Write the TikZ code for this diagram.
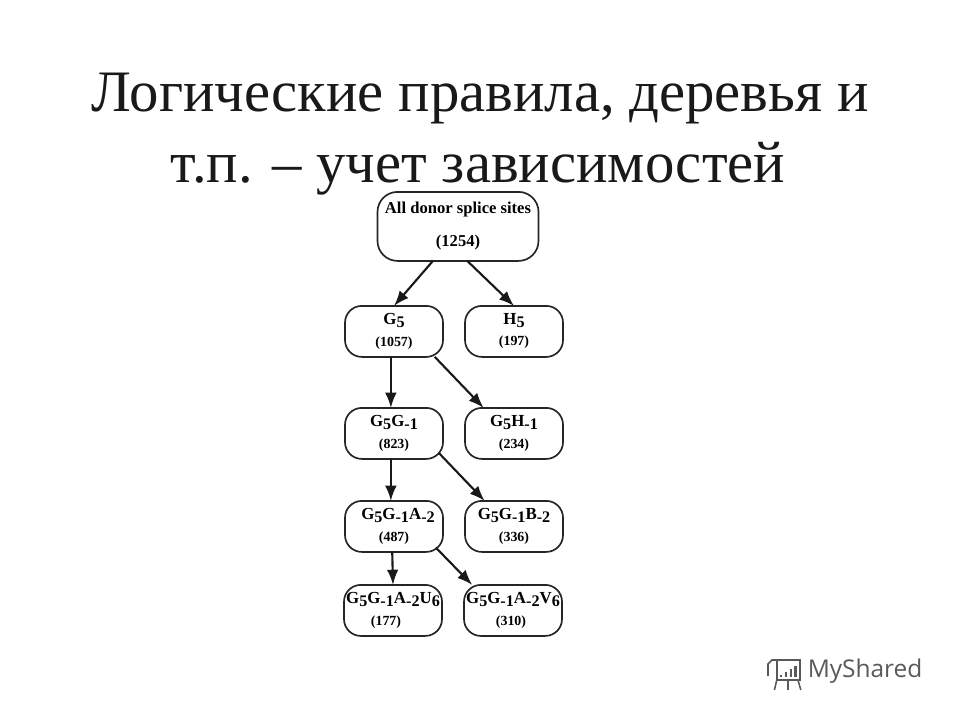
\documentclass[tikz,border=0pt]{standalone}
\usepackage{fontspec}
\setmainfont{Liberation Serif}
\newfontfamily\logofont{Open Sans}
\usetikzlibrary{positioning, arrows.meta}
\newcommand{\lowtxt}[1]{\raisebox{-0.32ex}{\fontsize{11.5}{11.5}\selectfont #1}}
\newcommand{\numtxt}[1]{{\fontsize{9.9}{10}\selectfont #1}}

\begin{document}
\begin{tikzpicture}[
        site/.style={draw=black!85, line width=1.2pt, outer sep=0pt, rounded corners=0.42cm, minimum width=2.45cm, minimum height=1.275cm, inner sep=0pt, align=center, font=\fontsize{12}{15}\selectfont\bfseries},
        rootsite/.style={site, rounded corners=0.5cm, minimum width=4.025cm, minimum height=1.725cm, font=\fontsize{11.8}{23.4}\selectfont\bfseries},
        arr/.style={-{Latex[length=0.38cm, width=0.29cm]}, line width=1.5pt, draw=black!90},
        cornerarr/.style={arr, shorten <=-0.15cm}
    ]
    \useasboundingbox (0,0) rectangle (24,-18);

    % Title
    \node[font=\fontsize{41.8}{50.3}\selectfont, align=center, color=black!90] (title) at (12,-3.35) {Логические правила, деревья и\\т.п. -- учет зависимостей\hspace*{0.1cm}};

    % Root
    \node[rootsite] (root) at (11.45,-5.66) {All donor splice sites\\(1254)};

    % Level 1
    \node[site, below=1.125cm of root, xshift=-1.6cm] (g5) {G\lowtxt{5}\\\numtxt{(1057)}};
    \node[site, right=0.55cm of g5] (h5) {H\lowtxt{5}\\\numtxt{(197)}};

    % Level 2
    \node[site, below=1.275cm of g5] (g5g1) {G\lowtxt{5}G\lowtxt{-1}\\\numtxt{(823)}};
    \node[site, right=0.55cm of g5g1] (g5h1) {G\lowtxt{5}H\lowtxt{-1}\\\numtxt{(234)}};

    % Level 3
    \node[site, below=1.05cm of g5g1] (g5g1a2) {\hspace*{0.2cm}G\lowtxt{5}G\lowtxt{-1}A\lowtxt{-2}\\\numtxt{(487)}};
    \node[site, right=0.55cm of g5g1a2] (g5g1b2) {G\lowtxt{5}G\lowtxt{-1}B\lowtxt{-2}\\\numtxt{(336)}};

    % Level 4
    \node[site, below=0.825cm of g5g1a2, xshift=-0.025cm] (g5g1a2u6) {G\lowtxt{5}G\lowtxt{-1}A\lowtxt{-2}U\lowtxt{6}\\\numtxt{(177)}\hspace*{0.35cm}};
    \node[site, right=0.55cm of g5g1a2u6] (g5g1a2v6) {G\lowtxt{5}G\lowtxt{-1}A\lowtxt{-2}V\lowtxt{6}\\\numtxt{(310)}\hspace*{0.1cm}};

    % Arrows
    \draw[arr] (root.234) -- (g5.north);
    \draw[arr] (root.285) -- (h5.north);
    \draw[arr] (g5.263) -- (g5g1.97);
    \draw[arr] (g5.328) -- (g5h1.140);
    \draw[arr] (g5g1.263) -- (g5g1a2.97);
    \draw[cornerarr] (g5g1.334) -- (g5g1b2.139);
    \draw[arr] (g5g1a2.266) -- (g5g1a2u6.90);
    \draw[cornerarr] (g5g1a2.331) -- (g5g1a2v6.148);

    % Logo
    \node[font=\logofont\fontsize{17.4}{20}\selectfont, color=black!65, anchor=west] (logo) at (20.07,-16.78) {MyShared};
    \begin{scope}[draw=black!65, line width=1.1pt]
        \draw (19.42,-16.5) rectangle (20.0,-17.0);
        \draw (19.2,-16.9) -- (19.2,-16.6) -- (19.3,-16.5) -- (20.02,-16.5);
        \draw (19.42,-17.0) -- (19.36,-17.25);
        \draw (19.7,-17.0) -- (19.7,-17.25);
        \draw (19.95,-17.0) -- (20.02,-17.25);
        \fill[black!65] (19.5,-16.93) rectangle (19.56,-16.87);
        \fill[black!65] (19.62,-16.93) rectangle (19.68,-16.81);
        \fill[black!65] (19.74,-16.93) rectangle (19.8,-16.73);
        \fill[black!65] (19.86,-16.93) rectangle (19.92,-16.64);
    \end{scope}
\end{tikzpicture}
\end{document}
